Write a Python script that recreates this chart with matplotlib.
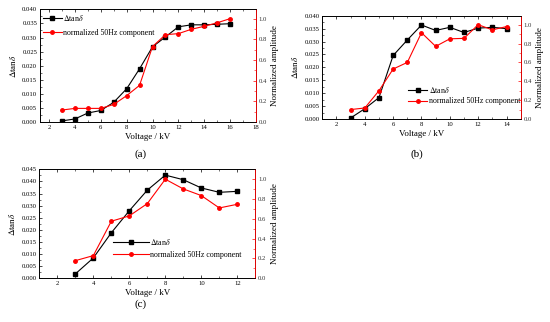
import matplotlib
matplotlib.use("Agg")
import matplotlib.pyplot as plt
from matplotlib.ticker import MultipleLocator, FormatStrFormatter

plt.rcParams['font.family'] = ['Liberation Serif', 'DejaVu Serif']
plt.rcParams['mathtext.fontset'] = 'stix'

# Panel (a)
va = [3, 4, 5, 6, 7, 8, 9, 10, 11, 12, 13, 14, 15, 16]
tan_a = [0.0004, 0.0011, 0.0032, 0.0041, 0.0070, 0.0118, 0.0189, 0.0267,
         0.0302, 0.0338, 0.0345, 0.0345, 0.0347, 0.0349]
amp_a = [0.116, 0.132, 0.132, 0.132, 0.17, 0.255, 0.355, 0.73,
         0.845, 0.855, 0.897, 0.926, 0.96, 1.0]

# Panel (b)
vb = [3, 4, 5, 6, 7, 8, 9, 10, 11, 12, 13, 14]
tan_b = [0.0004, 0.0040, 0.0083, 0.0246, 0.0306, 0.0364, 0.0343, 0.0355,
         0.0335, 0.0352, 0.0355, 0.0350]
amp_b = [0.10, 0.117, 0.30, 0.53, 0.60, 0.915, 0.77, 0.85, 0.855, 1.0,
         0.945, 0.98]

# Panel (c)
vc = [3, 4, 5, 6, 7, 8, 9, 10, 11, 12]
tan_c = [0.0018, 0.0084, 0.0188, 0.0279, 0.0364, 0.0426, 0.0407, 0.0373,
         0.0355, 0.0359]
amp_c = [0.178, 0.229, 0.576, 0.63, 0.754, 1.0, 0.902, 0.835, 0.71, 0.747]

lbl_tan = r'$\Delta$tan$\delta$'
lbl_amp = 'normalized 50Hz component'

fig = plt.figure(figsize=(5.5, 3.22), dpi=100)

def panel(rect, v, t, a, xlim, ylim, ystep, rlim, bbox, hlen, lspace, tag, tagpos):
    ax = fig.add_axes(rect)
    ax2 = ax.twinx()
    l1, = ax.plot(v, t, color='black', marker='s', ms=2.2, lw=0.8, label=lbl_tan)
    l2, = ax2.plot(v, a, color='#ff0000', marker='o', ms=2.5, lw=0.8, label=lbl_amp)
    ax.set_xlim(*xlim)
    ax.set_ylim(*ylim)
    ax2.set_ylim(*rlim)
    ax.xaxis.set_major_locator(MultipleLocator(2))
    ax.xaxis.set_minor_locator(MultipleLocator(1))
    ax.yaxis.set_major_locator(MultipleLocator(ystep))
    ax.yaxis.set_minor_locator(MultipleLocator(ystep / 2))
    ax.yaxis.set_major_formatter(FormatStrFormatter('%.3f'))
    ax2.yaxis.set_major_locator(MultipleLocator(0.2))
    ax2.yaxis.set_minor_locator(MultipleLocator(0.1))
    ax2.yaxis.set_major_formatter(FormatStrFormatter('%.1f'))
    ax.tick_params(which='both', direction='in', labelsize=4.8, top=True, pad=2)
    ax.tick_params(which='major', length=2.5, width=0.5)
    ax.tick_params(which='minor', length=1.3, width=0.4)
    ax2.tick_params(which='both', direction='in', labelsize=4.8, colors='#ff0000',
                    labelcolor='#333333', pad=2)
    ax2.tick_params(which='major', length=2.5, width=0.5)
    ax2.tick_params(which='minor', length=1.3, width=0.4)
    for s in ax.spines.values():
        s.set_linewidth(0.6)
    for s in ax2.spines.values():
        s.set_linewidth(0.6)
    ax2.spines['right'].set_color('#ff0000')
    ax.set_xlabel('Voltage / kV', fontsize=6.5, labelpad=2)
    ax.set_ylabel(lbl_tan, fontsize=6.5, labelpad=3)
    ax2.set_ylabel('Normalized amplitude', fontsize=6.5, labelpad=3)
    ax.legend([l1, l2], [lbl_tan, lbl_amp], loc='upper left', bbox_to_anchor=bbox,
              fontsize=5.7, frameon=False, handlelength=hlen, handletextpad=0.2,
              labelspacing=lspace, borderaxespad=0, borderpad=0)
    fig.text(tagpos[0], tagpos[1], tag, fontsize=8, ha='center', va='center')
    return ax

panel([0.0727, 0.621, 0.3927, 0.350], va, tan_a, amp_a, (1.3, 18),
      (0, 0.040), 0.005, (0, 1.09), (0.0125, 0.97), 2.4, 0.75, '(a)', (0.255, 0.52))
panel([0.586, 0.6304, 0.3607, 0.3208], vb, tan_b, amp_b, (1, 15),
      (0, 0.040), 0.005, (0, 1.095), (0.432, 0.329), 2.4, 0.3, '(b)', (0.758, 0.52))
panel([0.0715, 0.1357, 0.3927, 0.3385], vc, tan_c, amp_c, (1, 13),
      (0, 0.045), 0.005, (0, 1.10), (0.341, 0.382), 4.5, 0.5, '(c)', (0.255, 0.055))

fig.savefig('out.png', dpi=100)
